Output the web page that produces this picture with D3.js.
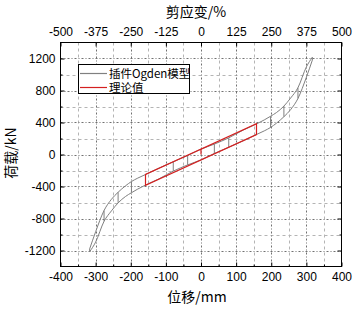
<!DOCTYPE html>
<html>
<head>
<meta charset="utf-8">
<script src="https://cdn.jsdelivr.net/npm/d3@7.9.0/dist/d3.min.js"></script>
<style>
  body { margin: 0; background: #fff; }
  svg { display: block; }
  .tick-label { font-family: "Liberation Sans", Arial, sans-serif; font-size: 12px; fill: #000; }
  .title { font-family: "Noto Sans CJK SC", sans-serif; font-size: 14px; fill: #000; }
  .legend-text { font-family: "Noto Sans CJK SC", sans-serif; font-size: 11.5px; fill: #000; }
</style>
</head>
<body>
<svg width="354" height="310"></svg>
<script>
// displacement (mm) where the Ogden curve was read
const dispPoints = [-317, -300, -276, -255, -236, -215, -198, -180, -158, -120, -79, -38, 0,
  38, 79, 120, 158, 180, 198, 215, 236, 255, 276, 300, 317];
// loading branch (upper) and unloading branch (lower), kN
const ogdenUpper = [-1180, -966, -700, -560, -472, -392, -338, -295, -250, -171, -91, -13, 67,
  130, 208, 305, 382, 432, 478, 525, 605, 705, 835, 1095, 1216];
const ogdenLower = [-1216, -1095, -835, -705, -605, -525, -478, -432, -382, -305, -208, -130, -67,
  13, 91, 171, 250, 295, 338, 392, 472, 560, 700, 966, 1180];
// reversal amplitudes of the cycles (mm)
const amplitudes = [38, 79, 158, 198, 236, 276, 317];

// theoretical (bilinear) loop
const theoryDisp = [0, 0, 158, 158, -158, -158, 158];
const theoryForce = [0, 67, 385, 250, -385, -250, 385];

const xTicks = [-400, -300, -200, -100, 0, 100, 200, 300, 400];
const yTicks = [-1200, -800, -400, 0, 400, 800, 1200];
const strainTicks = [-500, -375, -250, -125, 0, 125, 250, 375, 500];

const svg = d3.select('svg');
const pLeft = 60.5, pRight = 341.5, pTop = 42.5, pBottom = 266.5;

const x = d3.scaleLinear().domain([-400, 400]).range([pLeft, pRight]);
const xTop = d3.scaleLinear().domain([-500, 500]).range([pLeft, pRight]);
const y = d3.scaleLinear().domain([-1400, 1400]).range([pBottom, pTop]);
const plain = d => String(d);

// grid: minor first, then major
const minorX = d3.range(-350, 400, 100);
const minorY = d3.range(-1000, 1400, 400);
svg.append('g').selectAll('line').data(minorX).join('line')
  .attr('x1', d => Math.round(x(d)) + 0.5).attr('x2', d => Math.round(x(d)) + 0.5)
  .attr('y1', pTop).attr('y2', pBottom)
  .attr('stroke', '#b4b4b4').attr('stroke-dasharray', '3,3');
svg.append('g').selectAll('line').data(minorY).join('line')
  .attr('y1', d => Math.round(y(d)) + 0.5).attr('y2', d => Math.round(y(d)) + 0.5)
  .attr('x1', pLeft).attr('x2', pRight)
  .attr('stroke', '#b4b4b4').attr('stroke-dasharray', '3,3');
svg.append('g').selectAll('line').data(xTicks.slice(1, -1)).join('line')
  .attr('x1', d => Math.round(x(d)) + 0.5).attr('x2', d => Math.round(x(d)) + 0.5)
  .attr('y1', pTop).attr('y2', pBottom)
  .attr('stroke', '#707070').attr('stroke-dasharray', '2,2,1,2');
svg.append('g').selectAll('line').data(yTicks).join('line')
  .attr('y1', d => Math.round(y(d)) + 0.5).attr('y2', d => Math.round(y(d)) + 0.5)
  .attr('x1', pLeft).attr('x2', pRight)
  .attr('stroke', '#707070').attr('stroke-dasharray', '2,2,1,2');

// Ogden curves
const ogden = dispPoints.map((d, i) => ({ x: d, up: ogdenUpper[i], lo: ogdenLower[i] }));
const branch = key => d3.line().x(d => x(d.x)).y(d => y(d[key])).curve(d3.curveMonotoneX);
const curves = svg.append('g').attr('fill', 'none').attr('stroke', '#808080').attr('stroke-width', 1);
curves.append('path').attr('d', branch('up')(ogden));
curves.append('path').attr('d', branch('lo')(ogden));
amplitudes.forEach(a => {
  [a, -a].forEach(v => {
    const p = ogden.find(d => d.x === v);
    curves.append('line')
      .attr('x1', x(p.x)).attr('x2', x(p.x))
      .attr('y1', y(p.lo)).attr('y2', y(p.up));
  });
});

// theoretical loop
const theory = theoryDisp.map((d, i) => [d, theoryForce[i]]);
svg.append('path')
  .attr('d', d3.line().x(d => x(d[0])).y(d => y(d[1]))(theory))
  .attr('fill', 'none').attr('stroke', '#d42020').attr('stroke-width', 1.2);

// frame
svg.append('rect').attr('x', pLeft).attr('y', pTop)
  .attr('width', pRight - pLeft).attr('height', pBottom - pTop)
  .attr('fill', 'none').attr('stroke', '#000');

// axes with inward ticks
const axB = svg.append('g').attr('transform', `translate(0,${pBottom})`)
  .call(d3.axisBottom(x).tickValues(xTicks).tickFormat(plain).tickSize(-4).tickPadding(6));
const axT = svg.append('g').attr('transform', `translate(0,${pTop})`)
  .call(d3.axisTop(xTop).tickValues(strainTicks).tickFormat(plain).tickSize(-4).tickPadding(6.5));
const axL = svg.append('g').attr('transform', `translate(${pLeft},0)`)
  .call(d3.axisLeft(y).tickValues(yTicks).tickFormat(plain).tickSize(-4).tickPadding(5));
const axR = svg.append('g').attr('transform', `translate(${pRight},0)`)
  .call(d3.axisRight(y).tickValues(yTicks).tickSize(-4).tickFormat(''));
svg.append('g').attr('transform', `translate(${pLeft},0)`)
  .call(d3.axisLeft(y).tickValues(minorY).tickSize(-2).tickFormat(''));
svg.append('g').attr('transform', `translate(${pRight},0)`)
  .call(d3.axisRight(y).tickValues(minorY).tickSize(-2).tickFormat(''));
svg.append('g').attr('transform', `translate(0,${pBottom})`)
  .call(d3.axisBottom(x).tickValues(minorX).tickSize(-2).tickFormat(''));
[axB, axT, axL, axR].forEach(g => {
  g.selectAll('text').attr('class', 'tick-label').attr('font-family', null).attr('font-size', null);
});
svg.selectAll('.domain').remove();
svg.selectAll('.tick line').attr('stroke', '#000');

// titles
svg.append('text').attr('class', 'title').attr('x', 196).attr('y', 17)
  .attr('text-anchor', 'middle').text('剪应变/%');
svg.append('text').attr('class', 'title').attr('x', 197).attr('y', 302)
  .attr('text-anchor', 'middle').text('位移/mm');
svg.append('text').attr('class', 'title')
  .attr('transform', 'translate(16,153) rotate(-90)')
  .attr('text-anchor', 'middle').text('荷载/kN');

// legend
const legend = svg.append('g');
legend.append('rect').attr('x', 78.5).attr('y', 64.5).attr('width', 111).attr('height', 29)
  .attr('fill', '#fff').attr('stroke', '#000');
const items = [
  { label: '插件Ogden模型', color: '#808080' },
  { label: '理论值', color: '#d42020' }
];
items.forEach((d, i) => {
  const yy = 73.5 + i * 14;
  legend.append('line').attr('x1', 80).attr('x2', 107).attr('y1', yy).attr('y2', yy)
    .attr('stroke', d.color).attr('stroke-width', 1.2);
  legend.append('text').attr('class', 'legend-text').attr('x', 109).attr('y', yy + 4).text(d.label);
});
</script>
</body>
</html>
